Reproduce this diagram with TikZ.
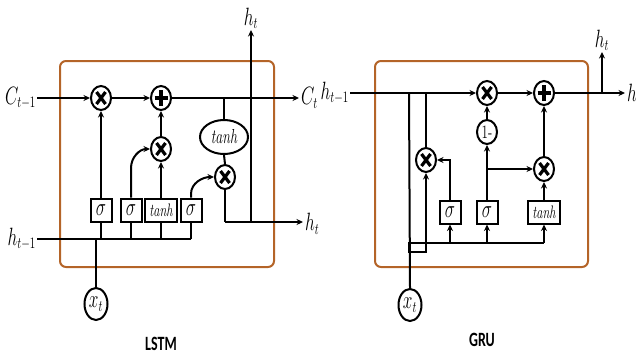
\documentclass[tikz,border=0pt]{standalone}
\usepackage{fontspec}
\usepackage{graphicx}
\newfontfamily\capfont{Carlito}
\usetikzlibrary{shapes.geometric,arrows.meta}
\newcommand{\tall}[1]{\scalebox{1}[1.45]{#1}}
\definecolor{cellc}{RGB}{180,100,40}
\tikzset{
  wire/.style={line width=2pt,black},
  arr/.style={-{Stealth[length=6.5pt,width=6pt]}},
  cellbox/.style={draw=cellc,line width=2pt,rounded corners=6pt},
  op/.style={draw,ellipse,line width=2pt,minimum width=20pt,minimum height=24pt,inner sep=0pt},
  mult/.style={op,path picture={
    \draw[line width=3.2pt] ([shift={(-4.5pt,-6pt)}]path picture bounding box.center) -- ([shift={(4.5pt,6pt)}]path picture bounding box.center);
    \draw[line width=3.2pt] ([shift={(-4.5pt,6pt)}]path picture bounding box.center) -- ([shift={(4.5pt,-6pt)}]path picture bounding box.center);}},
  plusop/.style={op,path picture={
    \draw[line width=3.2pt] ([shift={(-6.5pt,0pt)}]path picture bounding box.center) -- ([shift={(6.5pt,0pt)}]path picture bounding box.center);
    \draw[line width=3.2pt] ([shift={(0pt,-8pt)}]path picture bounding box.center) -- ([shift={(0pt,8pt)}]path picture bounding box.center);}},
  gate/.style={draw,rectangle,line width=2pt,minimum width=21pt,minimum height=23pt,inner sep=0pt,font=\fontsize{16}{18}\selectfont},
  wgate/.style={gate,minimum width=32pt,font=\fontsize{12.5}{14}\selectfont\itshape},
  tanhell/.style={draw,ellipse,line width=2pt,minimum width=48pt,minimum height=34pt,inner sep=0pt,font=\fontsize{14}{16}\selectfont\itshape},
  xin/.style={draw,ellipse,line width=2pt,minimum width=23pt,minimum height=32pt,inner sep=0pt,font=\fontsize{16}{18}\selectfont},
  lab/.style={inner sep=1pt,font=\fontsize{16}{18}\selectfont},
  title/.style={font=\capfont\bfseries\fontsize{14}{16}\selectfont}
}
\begin{document}
\begin{tikzpicture}[x=1pt,y=-1pt]
\useasboundingbox (0,0) rectangle (636,356);
% ---------------- LSTM ----------------
\draw[cellbox] (60,61) rectangle (274,267);
\node[mult] (m1) at (101,98) {};
\node[plusop] (p1) at (161,98) {};
\node[mult] (m2) at (161,149) {};
\node[tanhell] (te) at (224,137) {\tall{tanh}};
\node[mult] (m3) at (225,177) {};
\node[gate] (g1) at (101,210) {\tall{$\sigma$}};
\node[gate] (g2) at (131,210) {\tall{$\sigma$}};
\node[wgate] (g3) at (161,210) {\tall{tanh}};
\node[gate] (g4) at (191,210) {\tall{$\sigma$}};
\node[xin] (x1) at (96,304) {\tall{$x_t$}};
\node[lab,anchor=east] (cin) at (37,98) {\tall{$C_{t-1}$}};
\node[lab,anchor=west] (cout) at (300,98) {\tall{$C_t$}};
\node[lab,anchor=east] (hin) at (37,239) {\tall{$h_{t-1}$}};
\node[lab,anchor=west] (hout) at (304,224) {\tall{$h_t$}};
\node[lab,anchor=south] (htop) at (251,30) {\tall{$h_t$}};
\coordinate (cend) at (299,98);
\coordinate (br) at (224,98);
\coordinate (hc) at (225,222);
\coordinate (hv) at (251,222);
\coordinate (hend) at (303,222);
\coordinate (hl) at (191,239);
\draw[wire,arr] (cin.east) -- (m1);
\draw[wire,arr] (m1) -- (p1);
\draw[wire,arr] (p1) -- (cend);
\draw[wire] (br) -- (te.north);
\draw[wire] (te.south) -- (m3.north);
\draw[wire] (m3.south) -- (hc);
\draw[wire,arr] (hc) -- (hend);
\draw[wire,arr] (hv) -- (htop.south);
\draw[wire] (hin.east) -- (hl);
\foreach \g in {g1,g2,g3,g4} \draw[wire] (\g.south) -- (\g.south |- hl);
\draw[wire] (x1.north) -- (x1.north |- hl);
\draw[wire,arr] (g1.north) -- (m1.south);
\draw[wire,arr] (g2.north) -- (131,168) to[out=90,in=180] (m2.west);
\draw[wire,arr] (g3.north) -- (m2.south);
\draw[wire,arr] (m2.north) -- (p1.south);
\draw[wire,arr] (g4.north) -- (191,194) to[out=90,in=180] (m3.west);
\node[title] (lstm) at (161,344) {\tall{LSTM}};
% ---------------- GRU ----------------
\draw[cellbox] (375,61) rectangle (588,267);
\node[mult] (gm1) at (487,93) {};
\node[plusop] (gp) at (544,93) {};
\node[mult] (gr) at (426,160) {};
\node[op,font=\fontsize{13}{15}\selectfont] (om) at (487,132) {\tall{1-}};
\node[mult] (gh) at (544,169) {};
\node[gate] (gs1) at (450,212) {\tall{$\sigma$}};
\node[gate] (gs2) at (487,212) {\tall{$\sigma$}};
\node[wgate] (gt) at (544,212) {\tall{tanh}};
\node[xin] (x2) at (410,305) {\tall{$x_t$}};
\node[lab,anchor=east] (ghin) at (350,93) {\tall{$h_{t-1}$}};
\node[lab,anchor=west] (ghout) at (626,95) {\tall{$h_t$}};
\node[lab,anchor=south] (ghtop) at (602,52) {\tall{$h_t$}};
\coordinate (gend) at (625,93);
\coordinate (gup) at (602,93);
\coordinate (a1) at (409,93);
\coordinate (a2) at (426,93);
\coordinate (b0) at (409,243);
\coordinate (b1) at (544,243);
\coordinate (bz) at (487,169);
\draw[wire,arr] (ghin.east) -- (gm1);
\draw[wire,arr] (gm1) -- (gp);
\draw[wire,arr] (gp) -- (gend);
\draw[wire,arr] (gup) -- (ghtop.south);
\draw[wire] (a1) -- (x2.north);
\draw[wire] (a2) -- (gr.north);
\draw[wire] (b0) -- (b1);
\draw[wire] (409,243) rectangle (426,252);
\draw[wire,arr] (gr.south |- b0) -- (gr.south);
\foreach \g in {gs1,gs2,gt} \draw[wire,arr] (\g.south |- b0) -- (\g.south);
\draw[wire,arr] (gs1.north) |- (gr.east);
\draw[wire,arr] (gs2.north) -- (om.south);
\draw[wire,arr] (om.north) -- (gm1.south);
\draw[wire,arr] (bz) -- (gh.west);
\draw[wire,arr] (gt.north) -- (gh.south);
\draw[wire,arr] (gh.north) -- (gp.south);
\node[title] (gru) at (482,340) {\tall{GRU}};
\end{tikzpicture}
\end{document}
